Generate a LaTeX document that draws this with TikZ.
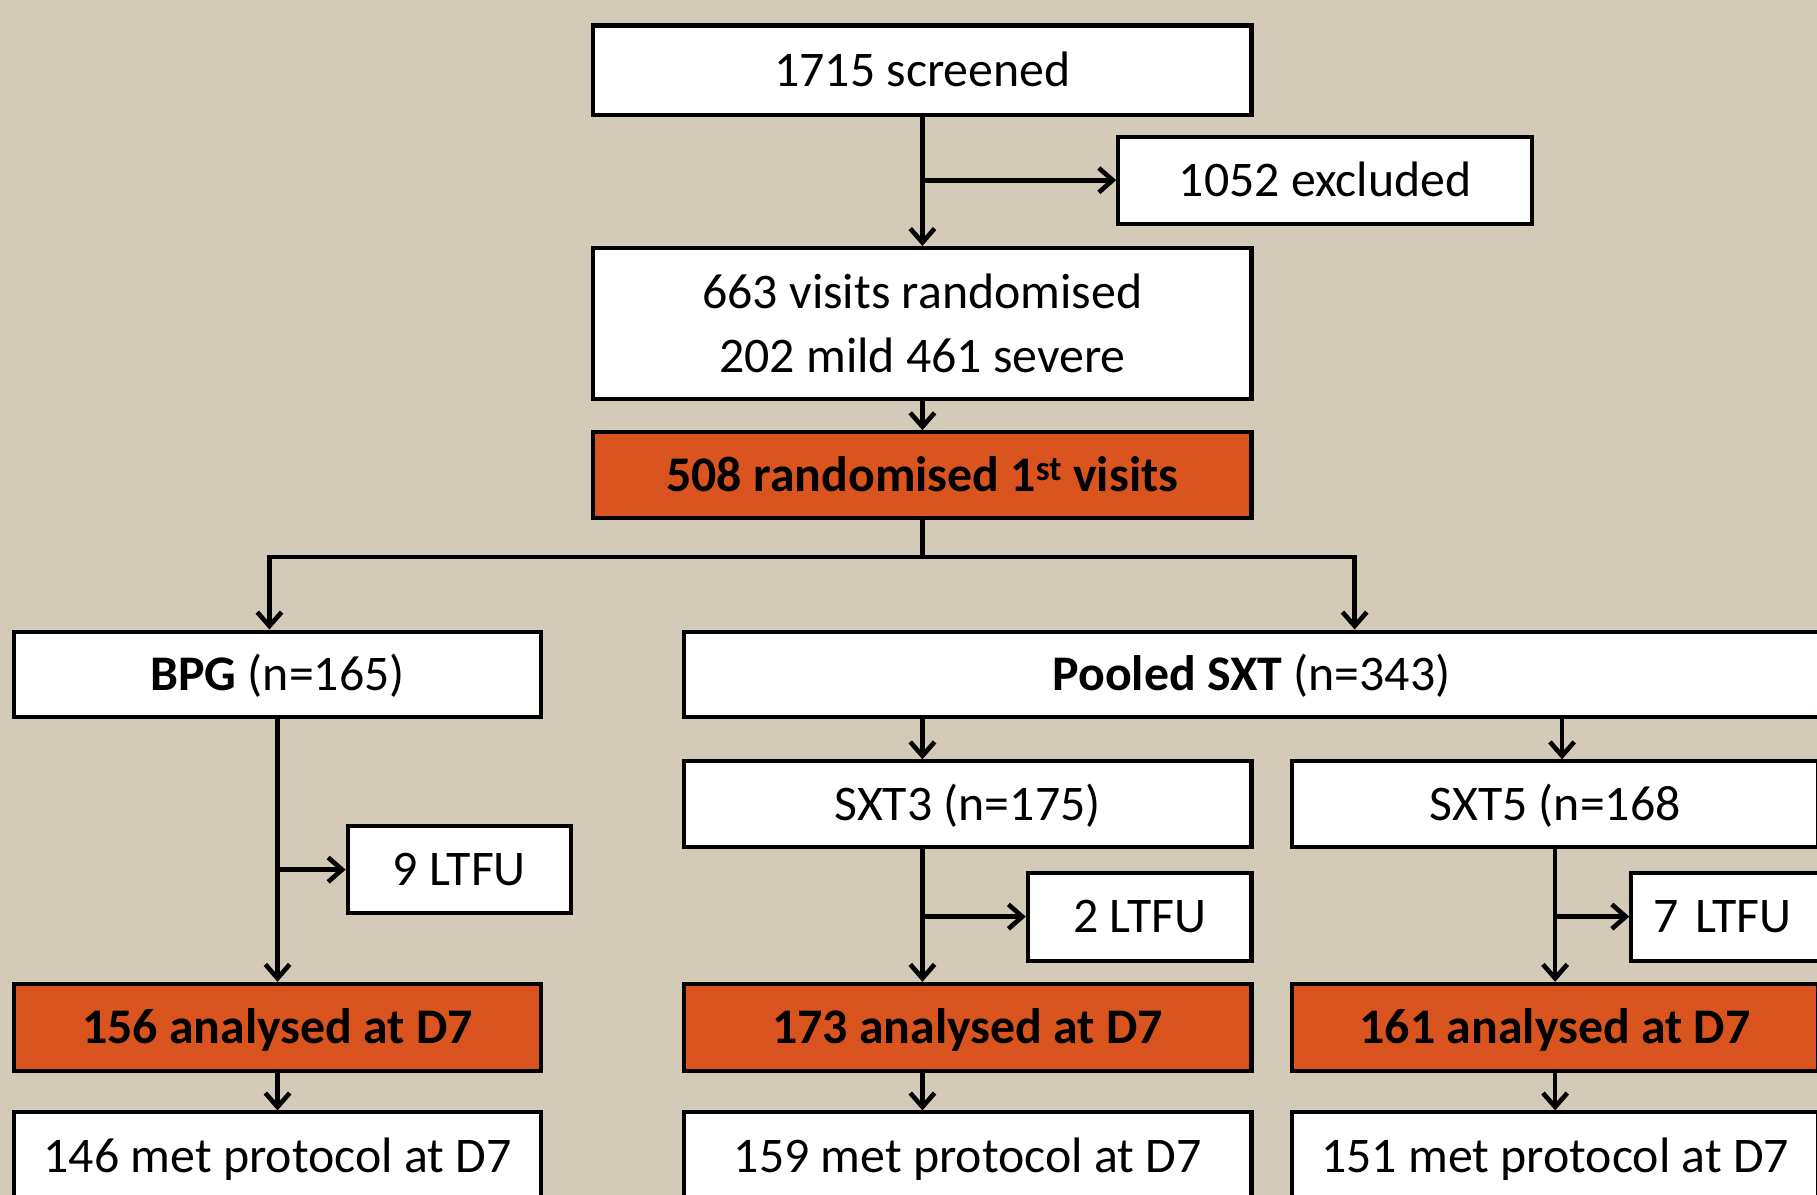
\documentclass[tikz,border=0pt]{standalone}
\usepackage{fontspec}
\setmainfont{Carlito}
\usetikzlibrary{arrows.meta}
\definecolor{bgc}{RGB}{211,203,184}
\definecolor{orgc}{RGB}{217,84,30}
\newcommand\mysz{\fontsize{43}{55}\selectfont}
\begin{document}
\begin{tikzpicture}[x=1pt,y=-1pt,
  frame/.style={draw=black, fill=white, line width=3.5pt, inner sep=0pt, font=\mysz},
  box/.style={frame, text height=38pt, text depth=10pt},
  obox/.style={box, fill=orgc, font=\mysz\bfseries},
  arr/.style={-{Straight Barb[length=12pt,width=21pt]}, line width=4pt},
  ln/.style={line width=4pt}]
\useasboundingbox (0,0) rectangle (1568,1031);
\clip (0,0) rectangle (1568,1031);
\fill[bgc] (0,0) rectangle (1568,1031);

\node[box, minimum width=568pt, minimum height=77pt] (scr) at (796,60.5) {1715 screened};
\node[box, minimum width=357pt, minimum height=75pt] (exc) at (1143.5,155.5) {1052 excluded};
\node[frame, align=center, minimum width=568pt, minimum height=130pt] (rnd) at (796,279) {663 visits randomised\\202 mild 461 severe};
\node[obox, minimum width=568pt, minimum height=74pt] (r1) at (796,410) {508 randomised 1\textsuperscript{st} visits};

\node[box, minimum width=455pt, minimum height=74pt] (bpg) at (239.5,582) {\textbf{BPG} (n=165)};
\node[box, minimum width=980pt, minimum height=74pt] (pool) at (1080,582) {\textbf{Pooled SXT} (n=343)};

\node[box, minimum width=490pt, minimum height=74pt] (sxt3) at (835,694) {SXT3 (n=175)};
\node[box, minimum width=454pt, minimum height=74pt] (sxt5) at (1342,694) {SXT5 (n=168};

\node[box, minimum width=193pt, minimum height=75pt] (l9) at (396.5,750.5) {9 LTFU};
\node[box, minimum width=193pt, minimum height=76pt] (l2) at (983.5,791) {2 LTFU};
\node[box, anchor=west, inner xsep=19pt, text width=162pt, align=left, minimum height=76pt] (l7) at (1406,791) {7 LTFU};

\node[obox, minimum width=455pt, minimum height=75pt] (a156) at (239.5,886.5) {156 analysed at D7};
\node[obox, minimum width=490pt, minimum height=75pt] (a173) at (835,886.5) {173 analysed at D7};
\node[obox, minimum width=454pt, minimum height=75pt] (a161) at (1342,886.5) {161 analysed at D7};

\node[box, minimum width=455pt, minimum height=75pt] (m146) at (239.5,997.5) {146 met protocol at D7};
\node[box, minimum width=490pt, minimum height=75pt] (m159) at (835,997.5) {159 met protocol at D7};
\node[box, minimum width=454pt, minimum height=75pt] (m151) at (1342,997.5) {151 met protocol at D7};

% top chain
\draw[arr] (scr.south) -- (rnd.north);
\draw[arr] (scr.south |- exc.west) -- (exc.west);
\draw[arr] (rnd.south) -- (r1.north);
\draw[ln] (r1.south) -- ++(0,32) coordinate (br);
\draw[arr] (br) -| ([xshift=-7pt]bpg.north);
\draw[arr] (br) -| ([xshift=89pt]pool.north);

% pooled to arms
\draw[arr] ([xshift=-39pt]sxt3.north |- pool.south) -- ([xshift=-39pt]sxt3.north);
\draw[arr] ([xshift=6pt]sxt5.north |- pool.south) -- ([xshift=6pt]sxt5.north);

% BPG arm
\draw[arr] (bpg.south) -- (a156.north);
\draw[arr] (bpg.south |- l9.west) -- (l9.west);
\draw[arr] (a156.south) -- (m146.north);

% SXT3 arm
\draw[arr] ([xshift=-39pt]sxt3.south) -- ([xshift=-39pt]a173.north);
\draw[arr] ([xshift=-39pt]sxt3.south |- l2.west) -- (l2.west);
\draw[arr] ([xshift=-39pt]a173.south) -- ([xshift=-39pt]m159.north);

% SXT5 arm
\draw[arr] (sxt5.south) -- (a161.north);
\draw[arr] (sxt5.south |- l7.west) -- (l7.west);
\draw[arr] (a161.south) -- (m151.north);
\end{tikzpicture}
\end{document}
